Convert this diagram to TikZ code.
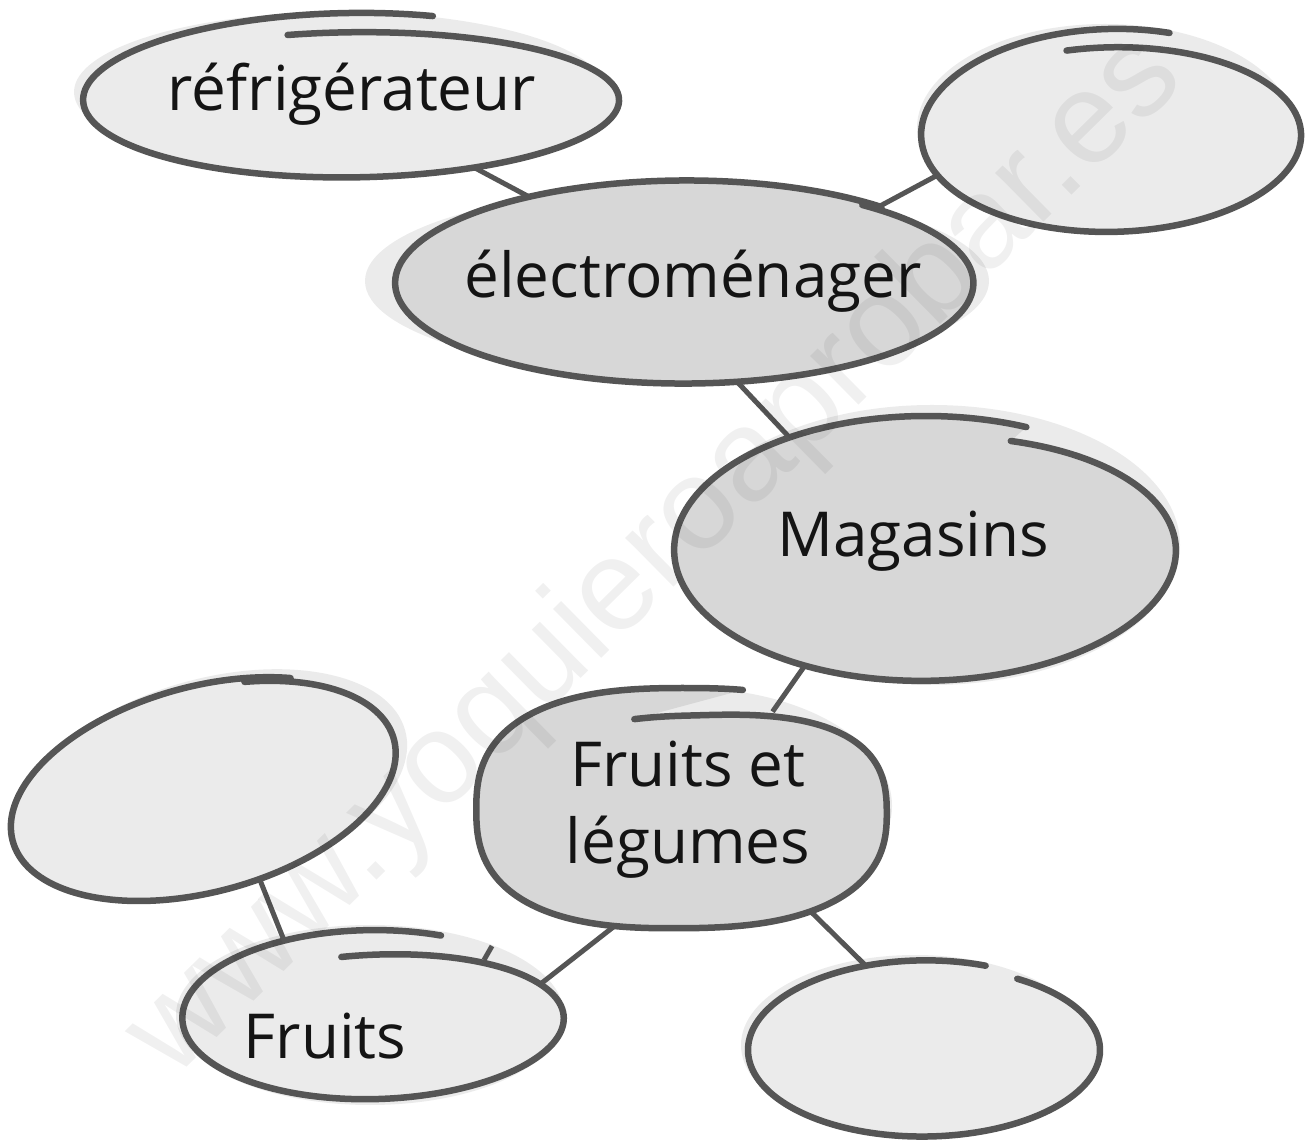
\documentclass[tikz,border=0pt]{standalone}
\usepackage{fontspec}
\setmainfont{Open Sans}
\newfontfamily\wmfont{Liberation Sans}
\usetikzlibrary{shapes.geometric}
\definecolor{lightfill}{HTML}{EBEBEB}
\definecolor{darkfill}{HTML}{D7D7D7}
\definecolor{shade}{HTML}{EBEBEB}
\definecolor{inkline}{HTML}{555555}
\definecolor{inktext}{HTML}{141414}
\tikzset{
  bubble/.style={ellipse, inner sep=0pt, draw=none, fill=none},
  outline/.style={draw=inkline, line width=6.5pt, line cap=round, line join=round},
  link/.style={draw=inkline, line width=5pt},
  lbl/.style={font=\fontsize{62}{77}\selectfont, text=inktext, align=center, inner sep=0pt},
  wm/.style={font=\wmfont\fontsize{130}{130}\selectfont, text=black, text opacity=0.06, inner sep=0pt},
  shadowfill/.style={fill=shade},
}
% #1 options, #2 node, #3 rx0, #4 ry0, #5 rx1, #6 ry1, #7 start angle, #8 sweep, #9 exponent
\newcommand\hand[9][]{%
  \draw[outline,shift={(#2.center)},#1] plot[domain=0:1,samples=161,smooth]
    ({((#5)+((#3)-(#5))*(1-\x)^(#9))*cos((#7)+(#8)*\x)},
     {((#6)+((#4)-(#6))*(1-\x)^(#9))*sin((#7)+(#8)*\x)});}
\begin{document}
\begin{tikzpicture}[x=1pt,y=1pt]
\useasboundingbox (0,0) rectangle (1309,1141);
% named nodes (geometry only)
\node[bubble, minimum width=516pt, minimum height=136pt] (refrig) at (352,1041) {};
\node[bubble, minimum width=360pt, minimum height=174pt] (tr) at (1112,1006) {};
\node[bubble, minimum width=560pt, minimum height=182pt] (elec) at (685,858) {};
\node[bubble, minimum width=482pt, minimum height=246pt] (mag) at (926,591) {};
\node[bubble, minimum width=392pt, minimum height=220pt] (fel) at (684,331) {};
\node[bubble, rotate=15, minimum width=376pt, minimum height=184pt] (left) at (204,351) {};
\node[bubble, minimum width=360pt, minimum height=152pt] (fruits) at (374,123) {};
\node[bubble, minimum width=332pt, minimum height=156pt] (br) at (924,91) {};
% shadows
\fill[shadowfill] ([shift={(-12,8)}]refrig.center) ellipse [x radius=266, y radius=80];
\fill[shadowfill] ([shift={(-7,7)}]tr.center) ellipse [x radius=188, y radius=104];
\fill[shadowfill] ([shift={(-8,2)}]elec.center) ellipse [x radius=312, y radius=93];
\fill[shadowfill] ([shift={(6,5)}]mag.center) ellipse [x radius=248, y radius=140];
\fill[shadowfill] ([shift={(4,4)}]fel.center) ellipse [x radius=204, y radius=118];
\fill[shadowfill, shift={([shift={(10,8)}]left.center)}, rotate=15] (0,0) ellipse [x radius=198, y radius=104];
\fill[shadowfill] ([shift={(-4,3)}]fruits.center) ellipse [x radius=194, y radius=90];
\fill[shadowfill] ([shift={(-9,5)}]br.center) ellipse [x radius=174, y radius=90];
% connectors
\draw[link] (refrig.-29) -- (elec.151);
\draw[link] (elec.21) -- (tr.-168);
\draw[link] (elec.-64) -- (mag.141);
\draw[link] (mag.-137) -- (fel.48);
\draw[link] (fel.-118) -- (fruits.11);
\draw[link] (fel.-38) -- (br.123);
\draw[link] (left.-72) -- (fruits.142);
\draw[link] ([shift={(110,58)}]fruits.center) -- ++(8,14);
% hand-drawn outlines
\hand[fill=lightfill]{refrig}{266}{67}{270}{88}{104}{-392}{1}
\hand[fill=lightfill]{tr}{188}{87}{192}{107}{104}{-392}{1}
\hand[fill=darkfill]{elec}{288}{99}{291}{103}{52}{-365}{1}
\hand[fill=darkfill]{mag}{248}{116}{252}{134}{70}{-364}{3}
\draw[outline, fill=darkfill, shift={(fel.center)}] plot[domain=0:1, samples=161, smooth]
  ({(208+(195-208)*(1-\x)^3)*cos(100-382*\x)*(abs(cos(100-382*\x))+0.001)^(-0.22)},
   {(122+(92-122)*(1-\x)^3)*sin(100-382*\x)*(abs(sin(100-382*\x))+0.001)^(-0.22)});
\hand[fill=lightfill, rotate=15]{left}{196}{100}{199}{104}{70}{-375}{1}
\hand[fill=lightfill]{fruits}{188}{62}{192}{88}{100}{-391}{2}
\hand[fill=lightfill]{br}{176}{84}{176}{90}{58}{-349}{1}
% labels
\node[lbl] (refrigtext) at ([yshift=6pt]refrig.center) {réfrigérateur};
\node[lbl] (electext) at ([shift={(8,2)}]elec.center) {électroménager};
\node[lbl] (magtext) at ([shift={(-13,9)}]mag.center) {Magasins};
\node[lbl] (feltext) at ([xshift=4pt]fel.center) {Fruits et\\légumes};
\node[lbl] (fruitstext) at ([shift={(-49,-18)}]fruits.center) {Fruits};
% watermark
\node[wm, rotate=44.6, anchor=base] (watermark) at (680,560) {www.yoquieroaprobar.es};
\end{tikzpicture}
\end{document}
